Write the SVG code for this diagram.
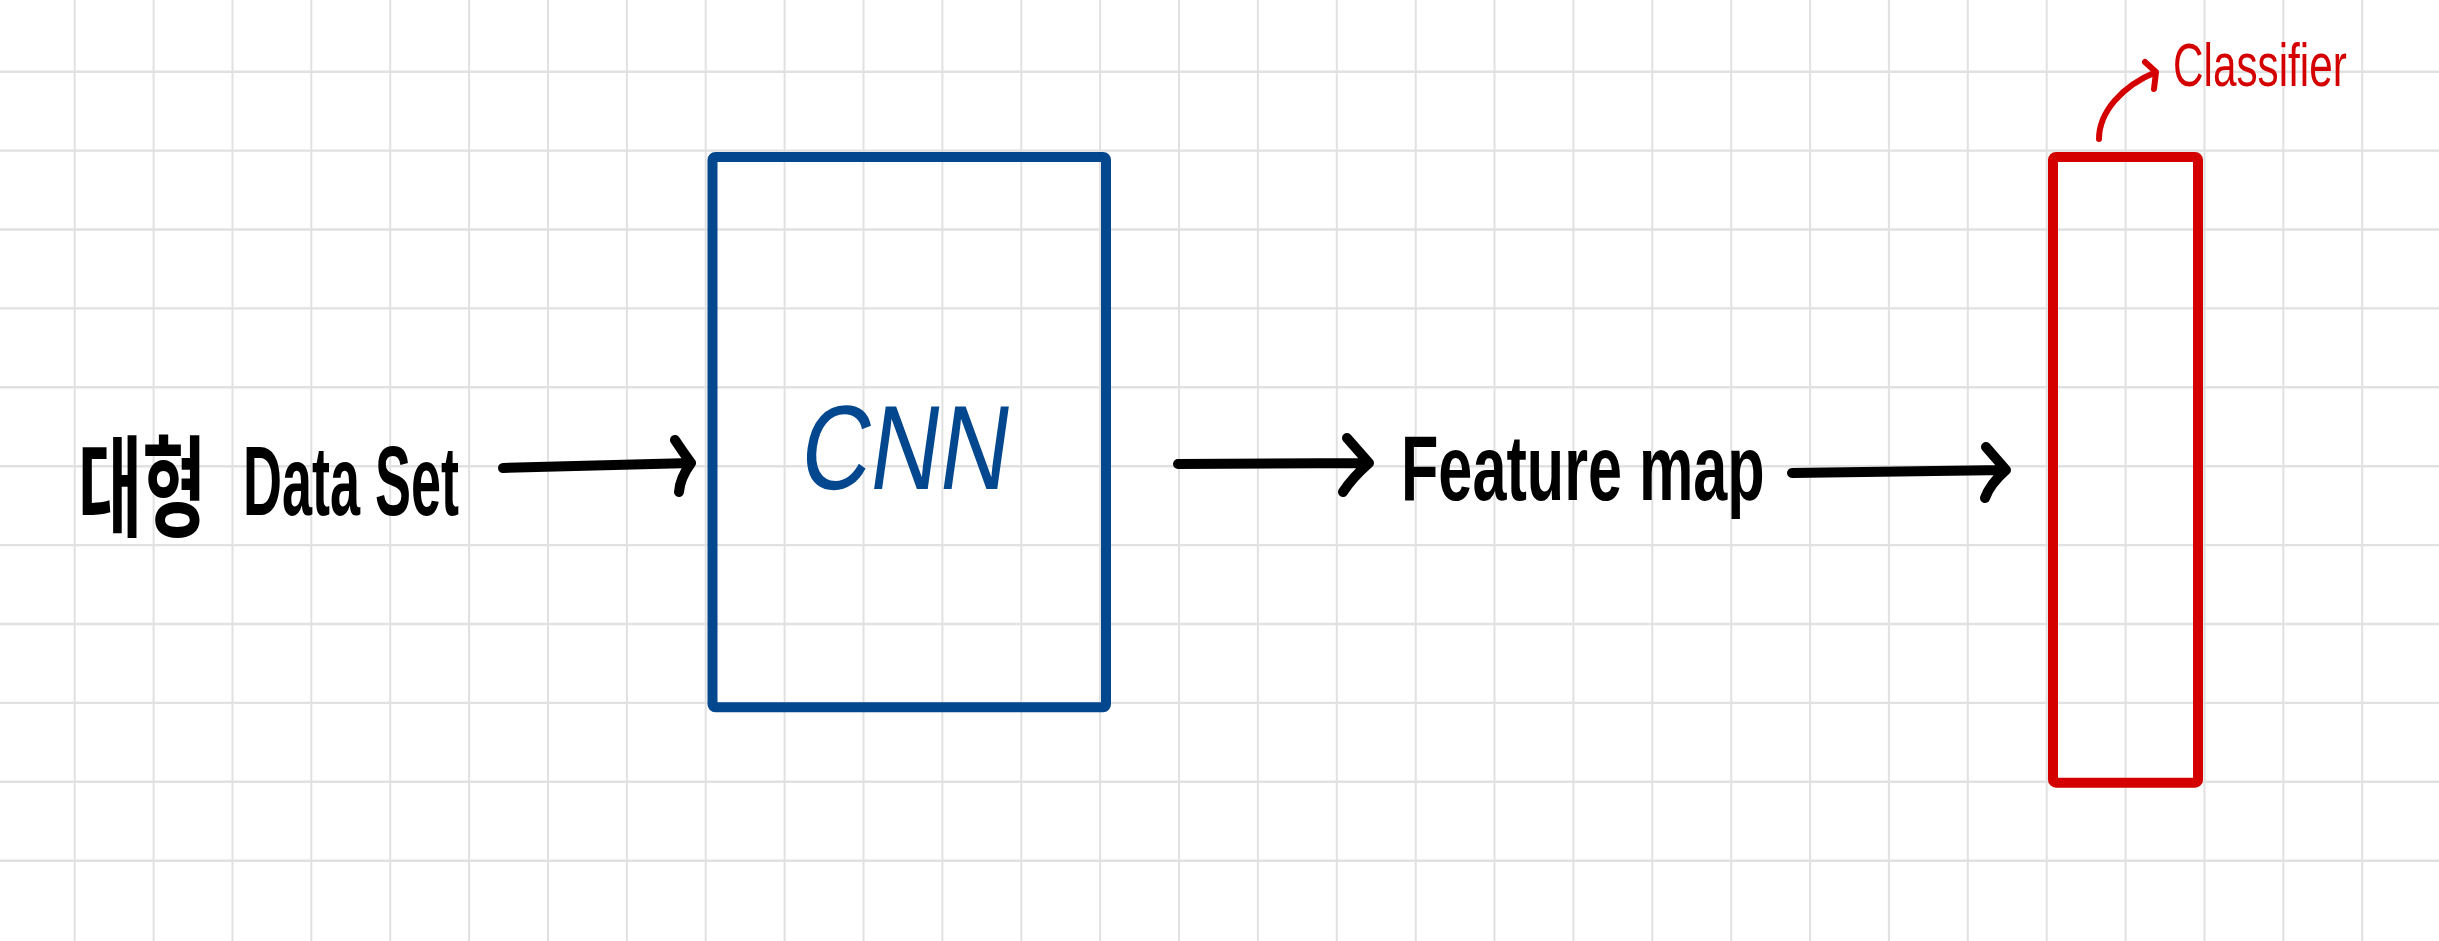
<svg xmlns="http://www.w3.org/2000/svg" width="2439" height="941" viewBox="0 0 2439 941">
<style>
.bg{fill:#ffffff}
.gv{stroke:#e1e1e1;stroke-width:2}
.gh{stroke:#e1e1e1;stroke-width:2.4}
.box{fill:none;stroke-width:10;stroke-linejoin:round}
.blue{stroke:#03478F}
.red{stroke:#D40000}
.ink{fill:none;stroke:#000;stroke-width:10;stroke-linecap:round;stroke-linejoin:round}
.redink{fill:none;stroke:#D40000;stroke-width:6;stroke-linecap:round;stroke-linejoin:round}
.hand{font-family:'Liberation Sans','Noto Sans CJK KR',sans-serif;fill:#000;font-weight:bold}
.kr{font-family:'Noto Sans CJK KR','Liberation Sans',sans-serif;fill:#000;font-weight:bold}
</style>
<rect class="bg" x="0" y="0" width="2439" height="941"/>
<g id="grid">
<path class="gv" d="M74.7,0V941M153.6,0V941M232.5,0V941M311.3,0V941M390.2,0V941M469.1,0V941M548,0V941M626.9,0V941M705.7,0V941M784.6,0V941M863.5,0V941M942.4,0V941M1021.3,0V941M1100.1,0V941M1179,0V941M1257.9,0V941M1336.8,0V941M1415.7,0V941M1494.5,0V941M1573.4,0V941M1652.3,0V941M1731.2,0V941M1810.1,0V941M1888.9,0V941M1967.8,0V941M2046.7,0V941M2125.6,0V941M2204.5,0V941M2283.3,0V941M2362.2,0V941"/>
<path class="gh" d="M0,71.7H2439M0,150.6H2439M0,229.5H2439M0,308.4H2439M0,387.3H2439M0,466.2H2439M0,545.1H2439M0,624H2439M0,702.9H2439M0,781.8H2439M0,860.7H2439"/>
</g>
<g id="node-dataset">
<text class="kr" transform="translate(78,528) scale(0.636,1)" x="0" y="0" font-size="110">대형</text>
<text class="hand" transform="translate(243,515) scale(0.551,1)" x="0" y="0" font-size="98">Data Set</text>
</g>
<g id="node-cnn">
<rect class="box blue" x="712.5" y="157" width="393.5" height="550.3" rx="3"/>
<text transform="translate(797,489) skewX(-8) scale(0.8,1)" x="0" y="0" font-family="'Liberation Sans',sans-serif" font-size="120" fill="#03478F">CNN</text>
</g>
<g id="node-featuremap">
<text class="hand" transform="translate(1401,500) scale(0.665,1)" x="0" y="0" font-size="92">Feature map</text>
</g>
<g id="node-classifier">
<rect class="box red" x="2053" y="157" width="145" height="625.7" rx="3"/>
</g>
<g id="node-classifier-label">
<text transform="translate(2173,86) scale(0.682,1)" x="0" y="0" font-family="'Liberation Sans',sans-serif" font-size="62" fill="#D40000">Classifier</text>
</g>
<g id="connectors">
<path class="ink" d="M503,468 L691,463 M675,440 Q683,452 691,463 Q680,478 679,492"/>
<path class="ink" d="M1178,464 L1369,463 M1347,438 L1369,463 Q1352,478 1343,492"/>
<path class="ink" d="M1792,473 L2006,470 M1986,447 L2006,470 Q1990,484 1985,498"/>
<path class="redink" d="M2099,139 C2099,112 2122,86 2156,72 M2145,62 L2156,72 L2154,89"/>
</g>
</svg>
